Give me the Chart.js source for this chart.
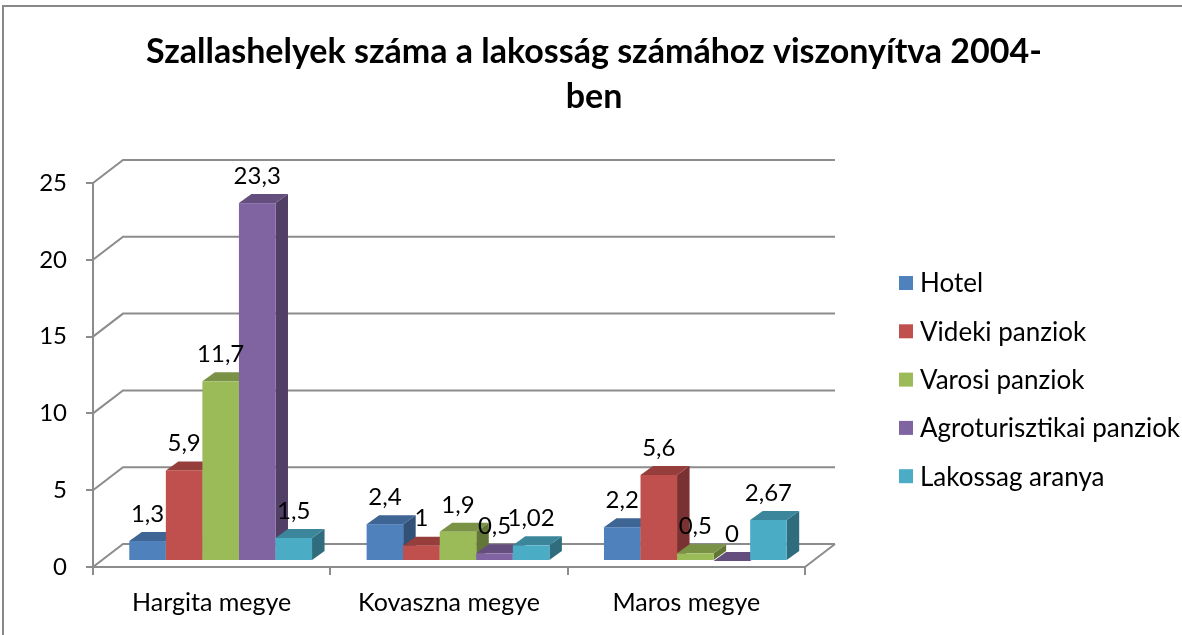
<!DOCTYPE html>
<html><head><meta charset="utf-8">
<script src="https://cdn.jsdelivr.net/npm/chart.js@4/dist/chart.umd.min.js"></script>
<style>html,body{margin:0;padding:0;background:#fff;}#wrap{width:1182px;height:635px;position:relative;}</style>
</head><body><div id="wrap"><canvas id="c" width="1182" height="635"></canvas></div>
<script>
// ---- data ----
const categories = ["Hargita megye", "Kovaszna megye", "Maros megye"];
const seriesNames = ["Hotel", "Videki panziok", "Varosi panziok", "Agroturisztikai panziok", "Lakossag aranya"];
const hotel = [1.3, 2.4, 2.2];
const videki = [5.9, 1, 5.6];
const varosi = [11.7, 1.9, 0.5];
const agro = [23.3, 0.5, 0];
const lakossag = [1.5, 1.02, 2.67];
const yTickValues = [0, 5, 10, 15, 20, 25];
const titleLines = ["Szallashelyek száma a lakosság számához viszonyítva 2004-", "ben"];

// ---- style ----
const colors = ["#4F81BD", "#C0504D", "#9BBB59", "#8064A2", "#4BACC6"];
const FONT = "Lato, 'Open Sans', sans-serif";
const LINE = "#8c8c8c";
const FRONT = {dx: 9, dy: -6};
const DEPTH = {dx: 12.5, dy: -9};
const WALL = {dx: 30, dy: -23};

function shade(hex, f) {
  const n = parseInt(hex.slice(1), 16);
  const r = Math.round(((n >> 16) & 255) * f), g = Math.round(((n >> 8) & 255) * f), b = Math.round((n & 255) * f);
  return `rgb(${r},${g},${b})`;
}
function fmt(v) { return String(v).replace('.', ','); }

const threeD = {
  id: 'threeD',
  beforeDraw(chart) {
    const ctx = chart.ctx;
    ctx.save();
    ctx.fillStyle = '#fff';
    ctx.fillRect(0, 0, chart.width, chart.height);
    ctx.strokeStyle = '#888';
    ctx.lineWidth = 2;
    ctx.strokeRect(3, 6, 1300, 800);
    // title
    ctx.fillStyle = '#000';
    ctx.font = `bold 34px ${FONT}`;
    ctx.textAlign = 'center';
    ctx.textBaseline = 'alphabetic';
    ctx.fillText(titleLines[0], 594, 63);
    ctx.fillText(titleLines[1], 594, 108);
    // legend
    ctx.font = `26px ${FONT}`;
    ctx.textAlign = 'left';
    ctx.textBaseline = 'middle';
    chart.data.datasets.forEach((ds, i) => {
      const cy = 283 + i * 48.3;
      ctx.fillStyle = ds.backgroundColor;
      ctx.fillRect(899, cy - 7, 14, 14);
      ctx.fillStyle = '#000';
      ctx.fillText(ds.label, 920, cy + 1);
    });
    ctx.restore();
  },
  beforeDatasetsDraw(chart) {
    const ctx = chart.ctx, ys = chart.scales.y, ca = chart.chartArea;
    ctx.save();
    ctx.strokeStyle = LINE;
    ctx.lineWidth = 2;
    ys.ticks.forEach(t => {
      const py = ys.getPixelForValue(t.value);
      ctx.beginPath();
      ctx.moveTo(ca.left, py);
      ctx.lineTo(ca.left + WALL.dx, py + WALL.dy);
      ctx.lineTo(ca.right + WALL.dx, py + WALL.dy);
      ctx.stroke();
    });
    const p0 = ys.getPixelForValue(0);
    ctx.beginPath();
    ctx.moveTo(ca.right, p0);
    ctx.lineTo(ca.right + WALL.dx, p0 + WALL.dy);
    ctx.stroke();

    const nCat = chart.data.labels.length;
    const labels = [];
    for (let i = 0; i < nCat; i++) {
      chart.data.datasets.forEach((ds, d) => {
        const el = chart.getDatasetMeta(d).data[i];
        const w = el.width;
        const x0 = el.x - w / 2 + FRONT.dx, x1 = el.x + w / 2 + FRONT.dx;
        const yt = el.y + FRONT.dy, yb = el.base + FRONT.dy;
        const c = ds.backgroundColor;
        // side
        ctx.fillStyle = shade(c, 0.63);
        ctx.beginPath();
        ctx.moveTo(x1, yt); ctx.lineTo(x1 + DEPTH.dx, yt + DEPTH.dy);
        ctx.lineTo(x1 + DEPTH.dx, yb + DEPTH.dy); ctx.lineTo(x1, yb);
        ctx.closePath(); ctx.fill();
        // top
        ctx.fillStyle = shade(c, 0.78);
        ctx.beginPath();
        ctx.moveTo(x0, yt); ctx.lineTo(x0 + DEPTH.dx, yt + DEPTH.dy);
        ctx.lineTo(x1 + DEPTH.dx, yt + DEPTH.dy); ctx.lineTo(x1, yt);
        ctx.closePath(); ctx.fill();
        // front
        ctx.fillStyle = c;
        ctx.fillRect(x0, yt, w, yb - yt);
        labels.push({x: (x0 + x1) / 2, y: yt - 27, t: fmt(ds.data[i])});
      });
    }
    ctx.fillStyle = '#000';
    ctx.font = `24px ${FONT}`;
    ctx.textAlign = 'center';
    ctx.textBaseline = 'middle';
    labels.forEach(l => ctx.fillText(l.t, l.x, l.y));
    ctx.restore();
    return false;
  }
};

const seriesData = [hotel, videki, varosi, agro, lakossag];
new Chart(document.getElementById('c'), {
  type: 'bar',
  data: {
    labels: categories,
    datasets: seriesNames.map((n, i) => ({label: n, data: seriesData[i], backgroundColor: colors[i],
      categoryPercentage: 0.77, barPercentage: 1}))
  },
  options: {
    responsive: false,
    animation: false,
    layout: {padding: {left: 0, top: 183, right: 1182 - 805, bottom: 0}},
    plugins: {legend: {display: false}, title: {display: false}, tooltip: {enabled: false}},
    scales: {
      x: {
        afterFit(s) { s.height = 635 - 567; },
        grid: {drawOnChartArea: false, tickLength: 8, color: LINE, lineWidth: 2, offset: true},
        border: {color: LINE, width: 2},
        ticks: {color: '#000', font: {family: FONT, size: 25}, padding: 13}
      },
      y: {
        min: 0, max: 25,
        afterFit(s) { s.width = 93; },
        afterBuildTicks(s) { s.ticks = yTickValues.map(v => ({value: v})); },
        grid: {drawOnChartArea: false, tickLength: 7, color: LINE, lineWidth: 2},
        border: {color: LINE, width: 2},
        ticks: {color: '#000', font: {family: FONT, size: 24}, padding: 19}
      }
    }
  },
  plugins: [threeD]
});
</script></body></html>
